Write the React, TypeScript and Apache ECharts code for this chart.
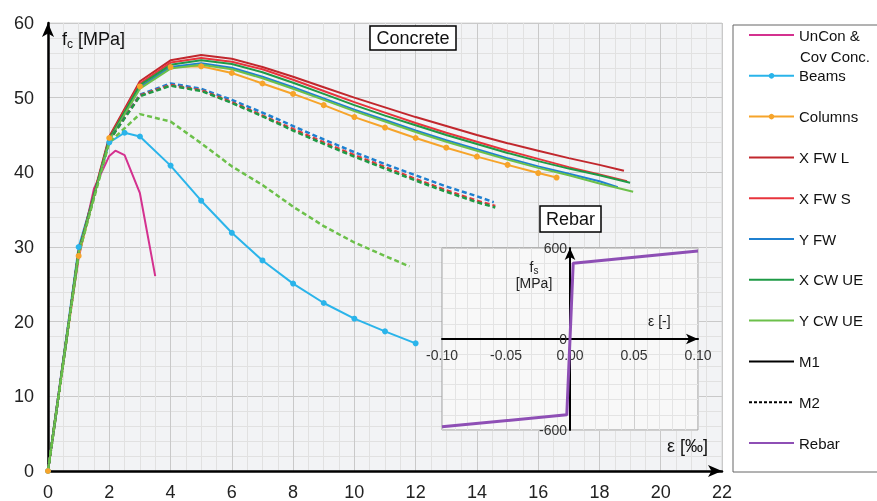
import React, { useEffect, useRef } from 'react';
import * as echarts from 'echarts';

// ---- data (strain in ‰, stress in MPa) ----
const unconData = [[0, 0], [0.5, 15], [1, 28.5], [1.5, 37.8], [2, 42.2], [2.2, 42.9], [2.5, 42.3], [3, 37.2], [3.5, 26.1]];
const beamsData = [[0, 0], [1, 30], [2, 44], [2.5, 45.3], [3, 44.8], [4, 40.9], [5, 36.2], [6, 31.9], [7, 28.2], [8, 25.1], [9, 22.5], [10, 20.4], [11, 18.7], [12, 17.1]];
const columnsData = [[0, 0], [1, 28.8], [2, 44.6], [3, 51.5], [4, 54.1], [5, 54.2], [6, 53.3], [7, 51.9], [8, 50.5], [9, 49.0], [10, 47.4], [11, 46.0], [12, 44.6], [13, 43.3], [14, 42.1], [15, 41.0], [16, 39.9], [16.6, 39.3]];
const xfwlData = [[0, 0], [1, 29.5], [2, 44.8], [3, 52.2], [4, 55.0], [5, 55.7], [6, 55.2], [7, 54.1], [8, 52.8], [9, 51.4], [10, 50.0], [11, 48.7], [12, 47.4], [13, 46.2], [14, 45.0], [15, 43.9], [16, 42.9], [17, 41.9], [18, 41.0], [18.8, 40.2]];
const xfwsData = [[0, 0], [1, 29.4], [2, 44.6], [3, 51.9], [4, 54.7], [5, 55.3], [6, 54.8], [7, 53.8], [8, 52.4], [9, 50.9], [10, 49.4], [11, 48.0], [12, 46.6], [13, 45.3], [14, 44.1], [15, 42.9], [16, 41.8], [17, 40.7], [18, 39.7], [18.9, 38.8]];
const yfwData = [[0, 0], [1, 29.3], [2, 44.3], [3, 51.4], [4, 54.1], [5, 54.6], [6, 54.0], [7, 52.8], [8, 51.4], [9, 49.9], [10, 48.4], [11, 47.0], [12, 45.6], [13, 44.3], [14, 43.1], [15, 41.9], [16, 40.8], [17, 39.8], [18, 38.8], [18.6, 38.0]];
const xcwueData = [[0, 0], [1, 29.3], [2, 44.5], [3, 51.7], [4, 54.4], [5, 55.0], [6, 54.5], [7, 53.4], [8, 52.0], [9, 50.5], [10, 49.0], [11, 47.6], [12, 46.3], [13, 45.0], [14, 43.8], [15, 42.6], [16, 41.5], [17, 40.5], [18, 39.6], [19, 38.6]];
const ycwueData = [[0, 0], [1, 29.3], [2, 44.3], [3, 51.2], [4, 53.9], [5, 54.4], [6, 53.8], [7, 52.6], [8, 51.2], [9, 49.7], [10, 48.2], [11, 46.8], [12, 45.4], [13, 44.1], [14, 42.9], [15, 41.7], [16, 40.6], [17, 39.6], [18, 38.5], [19.1, 37.4]];
const yfwM2Data = [[0, 0], [1, 29.3], [2, 44.3], [3, 50.4], [4, 51.9], [5, 51.2], [6, 49.7], [7, 48.0], [8, 46.2], [9, 44.4], [10, 42.7], [11, 41.1], [12, 39.6], [13, 38.1], [14, 36.8], [14.55, 36.0]];
const xfwsM2Data = [[0, 0], [1, 29.3], [2, 44.3], [3, 50.3], [4, 51.7], [5, 51.0], [6, 49.4], [7, 47.6], [8, 45.8], [9, 44.0], [10, 42.3], [11, 40.7], [12, 39.1], [13, 37.6], [14, 36.2], [14.6, 35.5]];
const xcwueM2Data = [[0, 0], [1, 29.3], [2, 44.3], [3, 50.2], [4, 51.6], [5, 50.9], [6, 49.3], [7, 47.5], [8, 45.6], [9, 43.8], [10, 42.1], [11, 40.5], [12, 38.9], [13, 37.4], [14, 36.0], [14.6, 35.3]];
const ycwueM2Data = [[0, 0], [1, 29], [2, 44.0], [3, 47.8], [4, 46.8], [5, 43.9], [6, 40.8], [7, 38.3], [8, 35.4], [9, 32.8], [10, 30.6], [11, 28.8], [11.8, 27.4]];
// rebar: strain [-], stress [MPa]
const rebarData = [[-0.1, -578], [-0.0025, -500], [0.0025, 500], [0.1, 580]];

const legendNames = ['UnCon & Cov Conc.', 'Beams', 'Columns', 'X FW L', 'X FW S', 'Y FW', 'X CW UE', 'Y CW UE', 'M1', 'M2', 'Rebar'];
const markerNames = ['Beams', 'Columns'];

const C = {
  uncon: '#d4318f',
  beams: '#2ab4ea',
  columns: '#f6a42a',
  xfwl: '#c1272d',
  xfws: '#e8343c',
  yfw: '#1f80d0',
  xcwue: '#1e9a46',
  ycwue: '#6cc04a',
  rebar: '#8e4fb5',
};

const FONT = 'Liberation Sans, Arial, sans-serif';

function solid(name: string, data: number[][], color: string, marker = false): any {
  return {
    type: 'line', name, data, xAxisIndex: 0, yAxisIndex: 0,
    symbol: marker ? 'circle' : 'none', symbolSize: 6, showSymbol: marker,
    lineStyle: { color, width: 2 }, itemStyle: { color }, z: 3,
  };
}
function dashed(name: string, data: number[][], color: string): any {
  return {
    type: 'line', name, data, xAxisIndex: 0, yAxisIndex: 0,
    symbol: 'none', lineStyle: { color, width: 2.5, type: [5, 3] }, itemStyle: { color }, z: 3,
  };
}

export default function App() {
  const ref = useRef<HTMLDivElement>(null);
  useEffect(() => {
    if (!ref.current) return;
    const chart = echarts.init(ref.current, null, { renderer: 'svg' });
    const option: any = {
      animation: false,
      textStyle: { fontFamily: FONT },
      grid: [
        { left: 48, top: 23, width: 674, height: 449, show: true, backgroundColor: '#f2f3f5', borderColor: '#d6d6d6', borderWidth: 1, z: 0 },
        { left: 442, top: 248, width: 256, height: 182, show: true, backgroundColor: '#f8f8f8', borderColor: '#9a9a9a', borderWidth: 1, z: 3 },
      ],
      xAxis: [
        {
          type: 'value', gridIndex: 0, min: 0, max: 22, interval: 2, z: 1,
          axisLine: { show: true, onZero: false, lineStyle: { color: '#000', width: 2.5 }, symbol: ['none', 'arrow'], symbolSize: [9, 14] },
          axisTick: { show: false },
          axisLabel: { color: '#222', fontSize: 18, margin: 12, fontFamily: FONT },
          splitLine: { show: true, lineStyle: { color: '#c9c9c9', width: 1 } },
          minorTick: { show: false, splitNumber: 4 },
          minorSplitLine: { show: true, lineStyle: { color: '#e1e1e1', width: 1 } },
        },
        {
          type: 'value', gridIndex: 1, min: -0.1, max: 0.1, interval: 0.05, z: 4,
          position: 'bottom', offset: -91,
          axisLine: { show: true, onZero: false, lineStyle: { color: '#000', width: 2 }, symbol: ['none', 'arrow'], symbolSize: [8, 12] },
          axisTick: { show: false },
          axisLabel: { color: '#333', fontSize: 14, margin: 9, fontFamily: FONT, formatter: (v: number) => v.toFixed(2) },
          splitLine: { show: true, lineStyle: { color: '#cfcfcf', width: 1 } },
          minorTick: { show: false, splitNumber: 5 },
          minorSplitLine: { show: true, lineStyle: { color: '#e4e4e4', width: 1 } },
        },
      ],
      yAxis: [
        {
          type: 'value', gridIndex: 0, min: 0, max: 60, interval: 10, z: 1,
          axisLine: { show: true, onZero: false, lineStyle: { color: '#000', width: 2.5 }, symbol: ['none', 'arrow'], symbolSize: [9, 14] },
          axisTick: { show: false },
          axisLabel: { color: '#222', fontSize: 18, margin: 14, fontFamily: FONT },
          splitLine: { show: true, lineStyle: { color: '#c9c9c9', width: 1 } },
          minorTick: { show: false, splitNumber: 5 },
          minorSplitLine: { show: true, lineStyle: { color: '#e1e1e1', width: 1 } },
        },
        {
          type: 'value', gridIndex: 1, min: -600, max: 600, interval: 600, z: 4,
          position: 'left', offset: -128,
          axisLine: { show: true, onZero: false, lineStyle: { color: '#000', width: 2 }, symbol: ['none', 'arrow'], symbolSize: [8, 12] },
          axisTick: { show: false },
          axisLabel: { color: '#333', fontSize: 14, margin: 3, fontFamily: FONT },
          splitLine: { show: true, lineStyle: { color: '#cfcfcf', width: 1 } },
          minorTick: { show: false, splitNumber: 6 },
          minorSplitLine: { show: true, lineStyle: { color: '#e4e4e4', width: 1 } },
        },
      ],
      legend: {
        data: legendNames.map((n) => (markerNames.includes(n) ? n : { name: n, itemStyle: { opacity: 0 } })),
        orient: 'vertical',
        left: 748,
        top: 25,
        padding: 0,
        itemWidth: 45,
        itemHeight: 7,
        itemGap: 20.8,
        selectedMode: false,
        textStyle: { fontSize: 15, color: '#111', fontFamily: FONT, lineHeight: 20 },
        formatter: (name: string) => (name === 'UnCon & Cov Conc.' ? 'UnCon &' : name),
      },
      graphic: [
        { type: 'rect', shape: { x: 733, y: 25, width: 160, height: 447 }, style: { fill: '#fff', stroke: '#666', lineWidth: 1 }, z: -1 },
        { type: 'text', x: 800, y: 56, style: { text: 'Cov Conc.', fontSize: 15, fill: '#111', fontFamily: FONT, textVerticalAlign: 'middle' }, z: 10 },
        { type: 'rect', shape: { x: 370, y: 26, width: 86, height: 24 }, style: { fill: '#fff', stroke: '#000', lineWidth: 1.5 }, z: 10 },
        { type: 'text', x: 413, y: 38, style: { text: 'Concrete', fontSize: 18, fill: '#111', fontFamily: FONT, textAlign: 'center', textVerticalAlign: 'middle' }, z: 11 },
        { type: 'rect', shape: { x: 540, y: 206, width: 61, height: 26 }, style: { fill: '#fff', stroke: '#000', lineWidth: 1.5 }, z: 10 },
        { type: 'text', x: 570.5, y: 219, style: { text: 'Rebar', fontSize: 18, fill: '#111', fontFamily: FONT, textAlign: 'center', textVerticalAlign: 'middle' }, z: 11 },
        {
          type: 'text', x: 62, y: 28, z: 11,
          style: {
            text: '{a|f}{b|c}{a| [MPa]}', fill: '#111', fontFamily: FONT,
            rich: { a: { fontSize: 18, fontFamily: FONT, fill: '#111' }, b: { fontSize: 12, fontFamily: FONT, fill: '#111', padding: [10, 0, 0, 0] } },
          },
        },
        { type: 'text', x: 667, y: 437, style: { text: 'ε [‰]', fontSize: 18, fill: '#111', fontFamily: FONT }, z: 11 },
        {
          type: 'text', x: 534, y: 258, z: 11,
          style: {
            text: '{a|f}{b|s}\n{c|[MPa]}', fill: '#222', fontFamily: FONT, textAlign: 'center',
            rich: {
              a: { fontSize: 14, lineHeight: 17, fontFamily: FONT, fill: '#222' },
              b: { fontSize: 10, lineHeight: 17, fontFamily: FONT, fill: '#222', verticalAlign: 'bottom' },
              c: { fontSize: 14, lineHeight: 16, fontFamily: FONT, fill: '#222' },
            },
          },
        },
        { type: 'text', x: 648, y: 314, style: { text: 'ε [-]', fontSize: 14, fill: '#222', fontFamily: FONT }, z: 11 },
      ],
      series: [
        solid('UnCon & Cov Conc.', unconData, C.uncon),
        solid('Beams', beamsData, C.beams, true),
        solid('Columns', columnsData, C.columns, true),
        solid('X FW L', xfwlData, C.xfwl),
        solid('X FW S', xfwsData, C.xfws),
        solid('Y FW', yfwData, C.yfw),
        solid('X CW UE', xcwueData, C.xcwue),
        solid('Y CW UE', ycwueData, C.ycwue),
        dashed('Y FW M2', yfwM2Data, C.yfw),
        dashed('X FW S M2', xfwsM2Data, C.xfws),
        dashed('X CW UE M2', xcwueM2Data, C.xcwue),
        dashed('Y CW UE M2', ycwueM2Data, C.ycwue),
        { type: 'line', name: 'M1', data: [], symbol: 'none', lineStyle: { color: '#000', width: 2 }, itemStyle: { color: '#000' } },
        { type: 'line', name: 'M2', data: [], symbol: 'none', lineStyle: { color: '#000', width: 2, type: [3, 2] }, itemStyle: { color: '#000' } },
        {
          type: 'line', name: 'Rebar', data: rebarData, xAxisIndex: 1, yAxisIndex: 1, symbol: 'none', z: 6,
          lineStyle: { color: C.rebar, width: 3 }, itemStyle: { color: C.rebar },
        },
      ],
    };
    chart.setOption(option);
    return () => chart.dispose();
  }, []);
  return <div ref={ref} style={{ position: 'fixed', left: 0, top: 0, width: 877, height: 501 }} />;
}
